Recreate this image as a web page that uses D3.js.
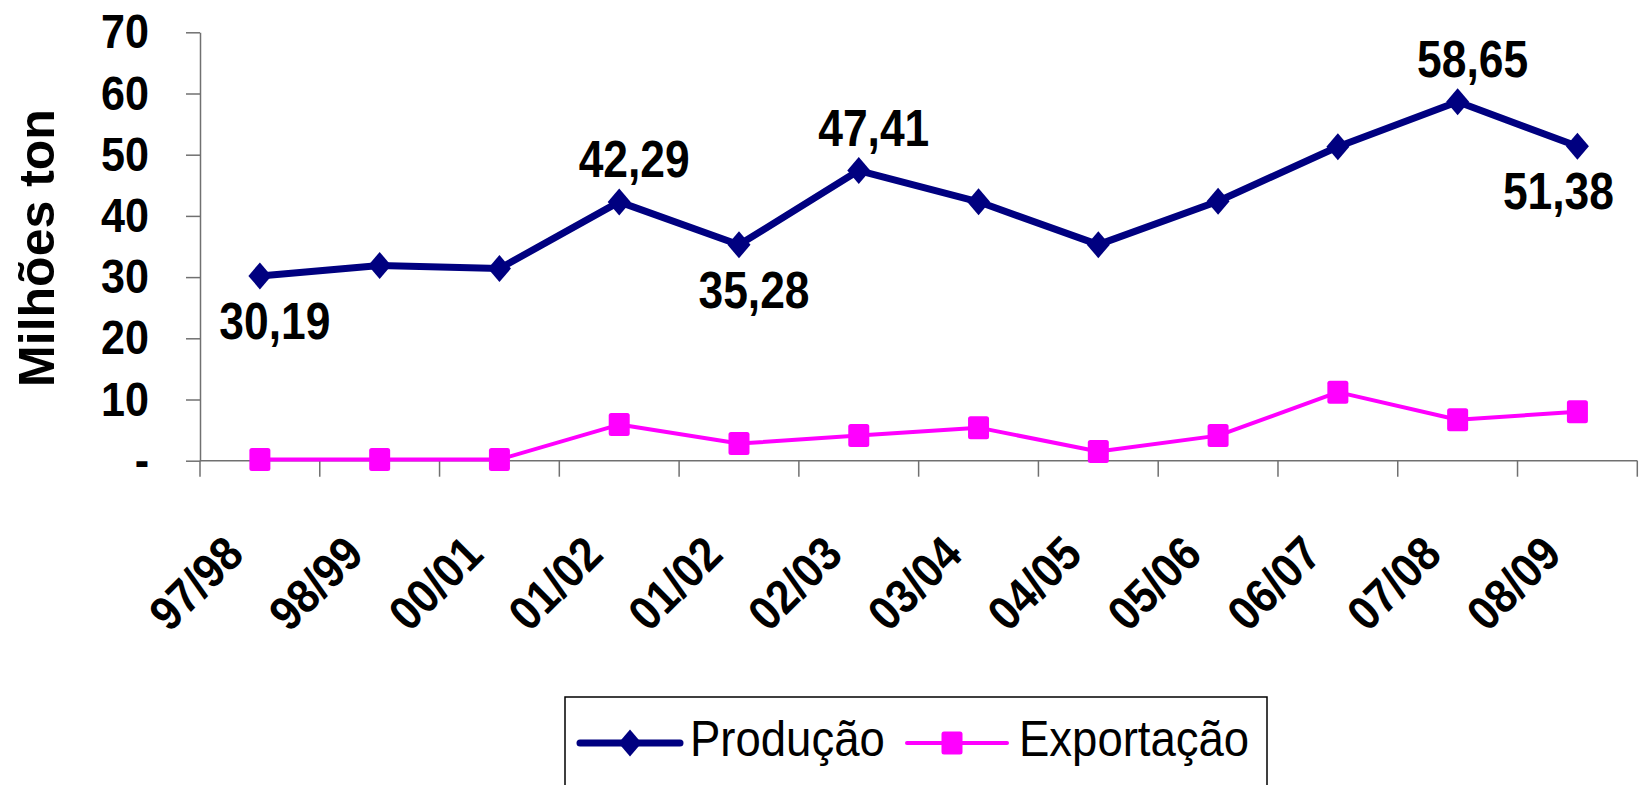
<!DOCTYPE html>
<html>
<head>
<meta charset="utf-8">
<script src="https://cdn.jsdelivr.net/npm/d3@7"></script>
<style>
  html, body { margin: 0; padding: 0; background: #fff; }
  svg { display: block; font-family: Arial, 'Liberation Sans', sans-serif; }
</style>
</head>
<body>
<div id="chart"></div>
<script>
// safras (the 01/02 season appears twice in the source chart)
const categories = ['97/98', '98/99', '00/01', '01/02', '01/02', '02/03', '03/04', '04/05', '05/06', '06/07', '07/08', '08/09'];
const producao = [30.19, 31.9, 31.4, 42.29, 35.28, 47.41, 42.3, 35.3, 42.4, 51.3, 58.65, 51.38];
const exportacao = [0.2, 0.2, 0.2, 5.9, 2.8, 4.1, 5.4, 1.5, 4.1, 11.2, 6.7, 8.0];
const yTicks = [0, 10, 20, 30, 40, 50, 60, 70];
// which production points carry a value label, and on which side
const labelIdx = [0, 3, 4, 5, 10, 11];
const labelPos = ['below-right', 'above-right', 'below-right', 'above-right', 'above-right', 'below-left'];
const seriesNames = ['Produção', 'Exportação'];

const width = 1644, height = 785;
const margin = { top: 32.3, right: 6.7, bottom: 324.3, left: 200 };
const plotW = width - margin.left - margin.right;
const plotH = height - margin.top - margin.bottom;

const NAVY = '#000080', PINK = '#FF00FF', AXIS = '#707070';

const svg = d3.select('#chart').append('svg')
  .attr('width', width)
  .attr('height', height);

const chart = svg.append('g')
  .attr('transform', `translate(${margin.left}, ${margin.top})`);

const x = d3.scaleBand()
  .domain(d3.range(categories.length))
  .range([0, plotW]);
const y = d3.scaleLinear()
  .domain([0, 70])
  .range([plotH, 0]);

// squeeze text horizontally, the source picture is a bit narrow
function squeeze(sel, k) {
  sel.each(function () {
    const w = this.getComputedTextLength();
    d3.select(this).attr('textLength', w * k).attr('lengthAdjust', 'spacingAndGlyphs');
  });
}

// y axis
const yAxisG = chart.append('g')
  .attr('class', 'axis-y')
  .call(d3.axisLeft(y)
    .tickValues(yTicks)
    .tickSize(14)
    .tickSizeOuter(0)
    .tickPadding(37)
    .tickFormat(d => d === 0 ? '-' : d));
yAxisG.attr('font-family', null).attr('font-size', null);
yAxisG.select('.domain').attr('stroke', AXIS).attr('stroke-width', 1.5);
yAxisG.selectAll('.tick line').attr('stroke', AXIS).attr('stroke-width', 1.5);
yAxisG.selectAll('.tick text')
  .attr('fill', '#000')
  .style('font-size', '49px')
  .style('font-weight', 'bold')
  .call(squeeze, 0.88);

// x axis: Excel style, ticks between categories
const xAxisG = chart.append('g').attr('class', 'axis-x');
xAxisG.append('line')
  .attr('x1', 0).attr('x2', plotW)
  .attr('y1', plotH).attr('y2', plotH)
  .attr('stroke', AXIS).attr('stroke-width', 1.5);
xAxisG.selectAll('.xtick')
  .data(d3.range(categories.length + 1))
  .join('line')
  .attr('class', 'xtick')
  .attr('x1', i => i * x.step()).attr('x2', i => i * x.step())
  .attr('y1', plotH).attr('y2', plotH + 16)
  .attr('stroke', AXIS).attr('stroke-width', 1.5);
xAxisG.selectAll('.xlabel')
  .data(categories)
  .join('text')
  .attr('class', 'xlabel')
  .attr('text-anchor', 'end')
  .attr('transform', (d, i) => `translate(${x(i) + x.bandwidth() / 2 - 14}, ${plotH + 96}) rotate(-45)`)
  .style('font-size', '48px')
  .style('font-weight', 'bold')
  .text(d => d)
  .call(squeeze, 0.9);

// y title
svg.append('text')
  .attr('transform', `translate(54, 248) rotate(-90)`)
  .attr('text-anchor', 'middle')
  .style('font-size', '50px')
  .style('font-weight', 'bold')
  .text('Milhões ton');

// lines
const line = d3.line()
  .x((d, i) => x(i) + x.bandwidth() / 2)
  .y(d => y(d));

chart.append('path')
  .datum(exportacao)
  .attr('fill', 'none')
  .attr('stroke', PINK)
  .attr('stroke-width', 4)
  .attr('stroke-linejoin', 'round')
  .attr('d', line);

chart.append('path')
  .datum(producao)
  .attr('fill', 'none')
  .attr('stroke', NAVY)
  .attr('stroke-width', 7)
  .attr('stroke-linejoin', 'round')
  .attr('d', line);

// markers
const diamond = (w, h) => `M0,${-h}L${w},0L0,${h}L${-w},0Z`;

chart.selectAll('.sq')
  .data(exportacao)
  .join('rect')
  .attr('class', 'sq')
  .attr('x', (d, i) => x(i) + x.bandwidth() / 2 - 10.5)
  .attr('y', d => y(d) - 11.5)
  .attr('width', 21).attr('height', 23)
  .attr('rx', 2.5)
  .attr('fill', PINK);

chart.selectAll('.dm')
  .data(producao)
  .join('path')
  .attr('class', 'dm')
  .attr('transform', (d, i) => `translate(${x(i) + x.bandwidth() / 2}, ${y(d)})`)
  .attr('d', diamond(11.5, 13.5))
  .attr('fill', NAVY);

// value labels
const fmt = v => d3.format('.2f')(v).replace('.', ',');
chart.selectAll('.vlabel')
  .data(labelIdx)
  .join('text')
  .attr('class', 'vlabel')
  .attr('text-anchor', 'middle')
  .attr('x', (d, k) => x(d) + x.bandwidth() / 2 + (labelPos[k].endsWith('left') ? -19 : 15))
  .attr('y', (d, k) => y(producao[d]) + (labelPos[k].startsWith('above') ? -25 : 63))
  .style('font-size', '51px')
  .style('font-weight', 'bold')
  .text(d => fmt(producao[d]))
  .call(squeeze, 0.87);

// legend
const legend = svg.append('g').attr('class', 'legend');
legend.append('rect')
  .attr('x', 565).attr('y', 697)
  .attr('width', 702).attr('height', 110)
  .attr('fill', '#fff')
  .attr('stroke', '#000').attr('stroke-width', 1.5);

const legItems = [
  { name: seriesNames[0], color: NAVY, lw: 7, x0: 580, text: 690 },
  { name: seriesNames[1], color: PINK, lw: 4, x0: 907, text: 1019 }
];
legItems.forEach((it, k) => {
  const g = legend.append('g');
  g.append('line')
    .attr('x1', it.x0).attr('x2', it.x0 + 100)
    .attr('y1', 743).attr('y2', 743)
    .attr('stroke', it.color).attr('stroke-width', it.lw)
    .attr('stroke-linecap', 'round');
  if (k === 0) {
    g.append('path')
      .attr('transform', `translate(${it.x0 + 50}, 743)`)
      .attr('d', diamond(11.5, 13.5))
      .attr('fill', it.color);
  } else {
    g.append('rect')
      .attr('x', it.x0 + 45 - 10.5).attr('y', 743 - 11.5)
      .attr('width', 21).attr('height', 23).attr('rx', 2.5)
      .attr('fill', it.color);
  }
  g.append('text')
    .attr('x', it.text).attr('y', 756)
    .style('font-size', '50px')
    .text(it.name)
    .call(squeeze, 0.91);
});
</script>
</body>
</html>
